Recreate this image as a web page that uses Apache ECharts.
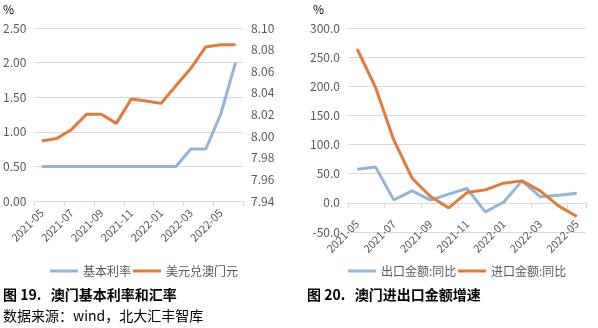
<!DOCTYPE html>
<html><head><meta charset="utf-8">
<script src="https://cdn.jsdelivr.net/npm/echarts@6/dist/echarts.min.js"></script>
<style>html,body{margin:0;padding:0;background:#fff}#c{width:598px;height:328px}</style>
</head><body><div id="c"></div>
<script>
// Left chart: Macau base rate and USD/MOP
const months1 = ['2021-05','2021-06','2021-07','2021-08','2021-09','2021-10','2021-11','2021-12','2022-01','2022-02','2022-03','2022-04','2022-05','2022-06'];
const baseRate = [0.50,0.50,0.50,0.50,0.50,0.50,0.50,0.50,0.50,0.50,0.75,0.75,1.25,2.00];
const usdMop = [7.9955,7.9978,8.0062,8.0202,8.0202,8.0118,8.0343,8.0325,8.0303,8.0465,8.0627,8.0825,8.0846,8.0846];
// Right chart: Macau export/import growth
const months2 = ['2021-05','2021-06','2021-07','2021-08','2021-09','2021-10','2021-11','2021-12','2022-01','2022-02','2022-03','2022-04','2022-05'];
const exportYoY = [57.7,61.7,5.1,20.6,4.6,14.9,24.6,-15.4,1.1,37.7,10.3,13.1,16.6];
const importYoY = [264.0,198.3,108.0,42.3,10.9,-8.6,17.7,22.3,33.7,37.7,20.6,-5.1,-23.4];

const BLUE = '#93B6D8', ORANGE = '#E07B39', GREY = '#595959', GRID = '#D9D9D9';
const FONT = '"Noto Sans CJK SC", "Liberation Sans", sans-serif';
const chart = echarts.init(document.getElementById('c'));
function xAx(idx, data, margin, fs, show) {
  return {type:'category', gridIndex: idx, data: data, boundaryGap: true,
    axisLine:{onZero:true, lineStyle:{color:GRID, width:1}},
    axisTick:{show:true, interval:1, length:5, lineStyle:{color:GRID}},
    axisLabel:{show:show, interval:1, rotate:45, color:GREY, fontSize:fs, fontFamily:FONT, margin:margin}};
}
function leg(left, name) {
  return {left:left, top:260, icon:'rect', itemWidth:28, itemHeight:3,
    textStyle:{color:GREY, fontSize:12, fontFamily:FONT}, data:[name]};
}
chart.setOption({
  animation:false,
  textStyle:{fontFamily:FONT},
  grid:[
    {left:33, top:28, width:210, height:173},
    {left:348, top:28, width:238, height:204}
  ],
  xAxis:[
    xAx(0, months1, 10, 11, true),
    xAx(1, months2, 9, 11, false),
    {type:'category', gridIndex:1, data:months2, boundaryGap:true, position:'bottom', offset:-20,
      axisLine:{show:false, onZero:false}, axisTick:{show:false}, splitLine:{show:false},
      axisLabel:{interval:1, rotate:45, color:GREY, fontSize:11, fontFamily:FONT, margin:10}}
  ],
  yAxis:[
    {type:'value', gridIndex:0, min:0, max:2.5, interval:0.5,
      axisLine:{show:false}, axisTick:{show:false},
      splitLine:{lineStyle:{color:GRID}},
      axisLabel:{color:GREY, fontSize:12, margin:8, formatter:v=>v.toFixed(2)}},
    {type:'value', gridIndex:0, position:'right', min:7.94, max:8.10, interval:0.02,
      axisLine:{show:false}, axisTick:{show:false}, splitLine:{show:false},
      axisLabel:{color:GREY, fontSize:12, margin:8, formatter:v=>v.toFixed(2)}},
    {type:'value', gridIndex:1, min:-50, max:300, interval:50,
      axisLine:{show:false}, axisTick:{show:false},
      splitLine:{lineStyle:{color:GRID}},
      axisLabel:{color:GREY, fontSize:12, margin:8, formatter:v=>v.toFixed(1)}}
  ],
  legend:[
    leg(45, '基本利率'), leg(128, '美元兑澳门元'),
    leg(343, '出口金额:同比'), leg(453, '进口金额:同比')
  ],
  series:[
    {name:'基本利率', type:'line', xAxisIndex:0, yAxisIndex:0, data:baseRate, showSymbol:false,
      lineStyle:{color:BLUE, width:3}, itemStyle:{color:BLUE}},
    {name:'美元兑澳门元', type:'line', xAxisIndex:0, yAxisIndex:1, data:usdMop, showSymbol:false,
      lineStyle:{color:ORANGE, width:3}, itemStyle:{color:ORANGE}},
    {name:'出口金额:同比', type:'line', xAxisIndex:1, yAxisIndex:2, data:exportYoY, showSymbol:false,
      lineStyle:{color:BLUE, width:3}, itemStyle:{color:BLUE}},
    {name:'进口金额:同比', type:'line', xAxisIndex:1, yAxisIndex:2, data:importYoY, showSymbol:false,
      lineStyle:{color:ORANGE, width:3}, itemStyle:{color:ORANGE}}
  ],
  graphic:[
    {type:'text', left:3, top:3, style:{text:'%', fill:'#000', font:'12px '+FONT}},
    {type:'text', left:313, top:3, style:{text:'%', fill:'#000', font:'12px '+FONT}},
    {type:'text', left:3, top:288, style:{text:'图 19.   澳门基本利率和汇率', fill:'#000', font:'bold 14px '+FONT}},
    {type:'text', left:307, top:288, style:{text:'图 20.   澳门进出口金额增速', fill:'#000', font:'bold 14px '+FONT}},
    {type:'text', left:3, top:309, style:{text:'数据来源：wind，北大汇丰智库', fill:'#000', font:'14px '+FONT}}
  ]
});
</script></body></html>
